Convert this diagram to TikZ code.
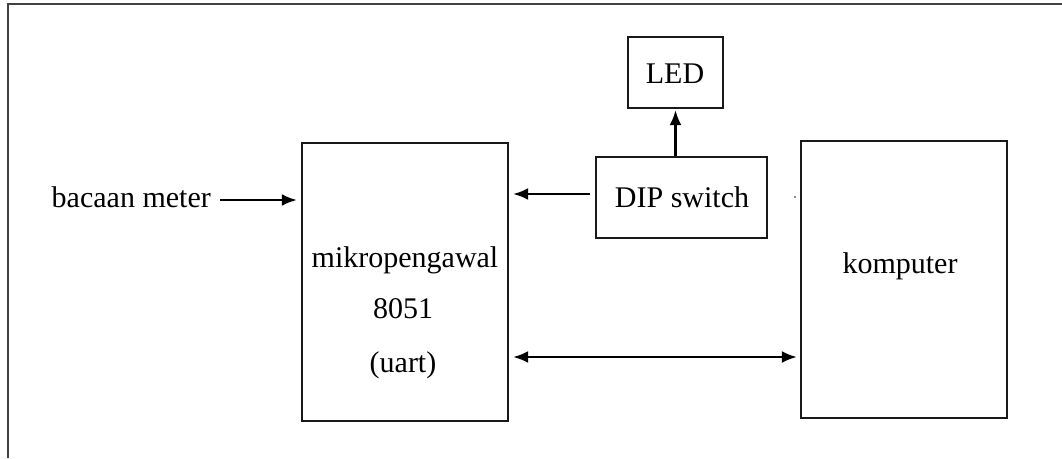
\documentclass[tikz,border=0pt]{standalone}
\usepackage{fontspec}
\setmainfont{Liberation Serif}
\usetikzlibrary{arrows.meta}
\begin{document}
\begin{tikzpicture}[x=1pt,y=-1pt,
  blk/.style={draw=black!90, line width=2.3pt, inner sep=0pt},
  lbl/.style={inner sep=0pt, anchor=base, font=\fontsize{30}{35}\selectfont},
  arr/.style={draw=black, line width=2.3pt, -{Latex[length=15pt,width=12pt]}},
  darr/.style={draw=black, line width=2.3pt, {Latex[length=15pt,width=12pt]}-{Latex[length=15pt,width=12pt]}},
  frame/.style={draw=black!75, line width=2.4pt}]
\useasboundingbox (0,0) rectangle (1062,458);
% outer frame (only top and left edges visible)
\coordinate (ftl) at (8,4);
\coordinate (ftr) at (1062,4);
\coordinate (fbl) at (8,458);
\draw[frame] (ftr) -- (ftl) -- (fbl);
% blocks
\node[blk, minimum width=206pt, minimum height=278pt] (mik) at (405,282) {};
\node[blk, minimum width=206pt, minimum height=277pt] (kom) at (904,279.5) {};
\node[blk, minimum width=171pt, minimum height=81pt] (dip) at (681.5,197.5) {};
\node[blk, minimum width=95pt, minimum height=71pt] (led) at (675.5,72.5) {};
% texts
\node[lbl] (mt1) at (405,267) {mikropengawal};
\node[lbl] (mt2) at (403,318) {8051};
\node[lbl] (mt3) at (403,372) {(uart)};
\node[lbl] (kt) at (900,273) {komputer};
\node[lbl] (dt) at (682,207) {DIP switch};
\node[lbl] (lt) at (675,83) {LED};
\node[lbl, anchor=base east] (bm) at (211,207) {bacaan meter};
% connectors
\coordinate (bmend) at (220,200);
\draw[arr, shorten >=4pt] (bmend) -- (bmend -| mik.west);
\coordinate (ds) at (590,194);
\draw[arr, shorten >=4pt] (ds) -- (ds -| mik.east);
\draw[arr, shorten >=1pt] (led.south |- dip.north) -- (led.south);
\path (mik.east) ++(0,75) coordinate (ua);
\draw[darr, shorten <=4pt, shorten >=3pt] (ua) -- (ua -| kom.west);
% stray dot left of komputer
\coordinate (sd) at (795,197);
\fill[black!60] (sd) circle (1.2pt);
\end{tikzpicture}
\end{document}
